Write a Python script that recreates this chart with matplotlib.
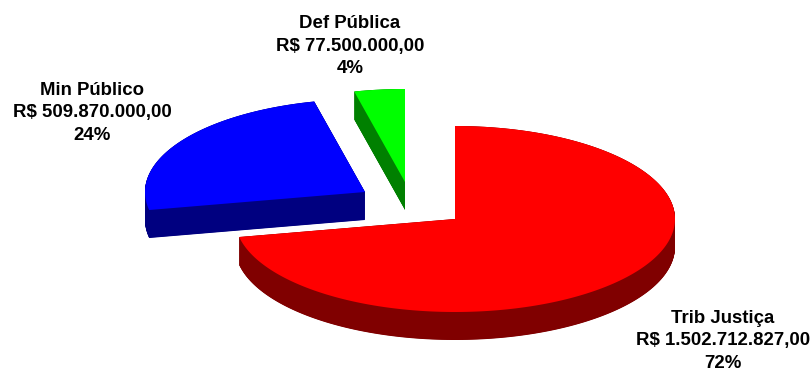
import numpy as np
import matplotlib
matplotlib.use("Agg")
import matplotlib.pyplot as plt
from matplotlib.patches import Polygon

# ---- data ----
categories = ["Trib Justiça", "Min Público", "Def Pública"]
values = [1502712827.00, 509870000.00, 77500000.00]

# ---- style ----
top_colors = ["#FF0000", "#0000FF", "#00FF00"]
side_colors = ["#800000", "#000080", "#008000"]
offsets = [(0, 0), (-90, -27), (-50, -37)]          # explode offsets (px)
label_pos = [(723, 341), (92, 113), (350, 46)]      # label centres (px)
cx, cy, rx, ry, depth = 455, 219, 220, 93, 28

plt.rcParams['font.family'] = ['Liberation Sans', 'DejaVu Sans']

fig = plt.figure(figsize=(8.11, 3.76), dpi=100)
ax = fig.add_axes([0, 0, 1, 1])
ax.set_xlim(0, 811)
ax.set_ylim(376, 0)
ax.axis('off')

total = float(sum(values))
fracs = [v / total for v in values]
cum = np.concatenate([[0], np.cumsum(fracs)])


def brl(v):
    s = f"{v:,.2f}"
    return "R$ " + s.replace(",", "X").replace(".", ",").replace("X", ".")


def wedge_pts(t1, t2, ox, oy):
    th = np.radians(np.linspace(t1, t2, 200))
    xs = cx + ox + rx * np.cos(th)
    ys = cy + oy - ry * np.sin(th)
    pts = np.column_stack([xs, ys])
    return np.vstack([[cx + ox, cy + oy], pts])


draw_order = [2, 1, 0]
for i in draw_order:
    t_start = 90 - cum[i + 1] * 360
    t_end = 90 - cum[i] * 360
    ox, oy = offsets[i]
    pts = wedge_pts(t_start, t_end, ox, oy)
    for d in np.linspace(depth, 0, 80):
        ax.add_patch(Polygon(pts + [0, d], closed=True, facecolor=side_colors[i],
                             edgecolor='none', lw=0))
    ax.add_patch(Polygon(pts, closed=True, facecolor=top_colors[i],
                         edgecolor='none', lw=0))

for i, name in enumerate(categories):
    pct = round(fracs[i] * 100)
    txt = f"{name}\n{brl(values[i])}\n{pct}%"
    ax.text(label_pos[i][0], label_pos[i][1], txt, ha='center', va='center',
            fontsize=13.4, fontweight='bold', linespacing=1.42, color='black')

fig.savefig("out.png", dpi=100, facecolor='white')
